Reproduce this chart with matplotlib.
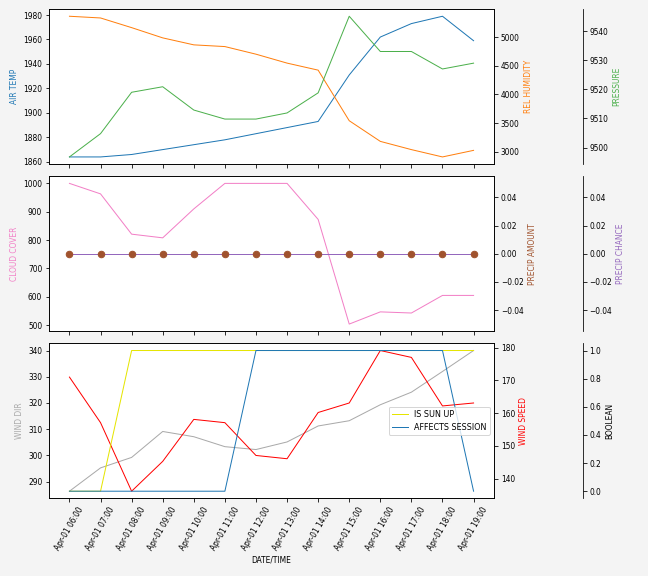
import numpy as np
import pandas as pd
import matplotlib
matplotlib.use("Agg")
import matplotlib.pyplot as plt
import matplotlib.dates as mdates

plt.rcParams['font.size'] = 7.5

times = pd.date_range("2024-04-01 06:00", periods=14, freq="h")

air_temp = [1864, 1864, 1866, 1870, 1874, 1878, 1883, 1888, 1893, 1931, 1962, 1973, 1979, 1959]
rel_humidity = [5366, 5336, 5167, 4988, 4866, 4836, 4703, 4547, 4424, 3540, 3179, 3035, 2907, 3022]
pressure = [9496.8, 9504.8, 9519.0, 9520.9, 9512.9, 9509.8, 9509.8, 9511.9, 9518.8,
            9545.1, 9533.0, 9533.0, 9527.0, 9529.0]

cloud_cover = [1000, 963, 821, 808, 910, 1000, 1000, 1000, 873, 504, 547, 543, 605, 605]
precip_amount = [0] * 14
precip_chance = [0] * 14

wind_dir = [286.3, 295.2, 299.2, 309.1, 307.1, 303.3, 302.2, 305.1, 311.2, 313.2, 319.3, 324.1, 332.0, 340]
wind_speed = [171.0, 157.1, 136.2, 145.3, 158.1, 157.1, 147.1, 146.1, 160.2, 163.1, 179.1, 177.0, 162.2, 163.1]
is_sun_up = [0, 0, 1, 1, 1, 1, 1, 1, 1, 1, 1, 1, 1, 1]
affects_session = [0, 0, 0, 0, 0, 0, 1, 1, 1, 1, 1, 1, 1, 0]


def third_axis(ax):
    par = ax.twinx()
    par.spines["right"].set_position(("axes", 1.2))
    par.set_frame_on(True)
    par.patch.set_visible(False)
    for sp in par.spines.values():
        sp.set_visible(False)
    par.spines["right"].set_visible(True)
    return par


fig, (ax1, ax2, ax3) = plt.subplots(3, 1, figsize=(9, 8), dpi=72, sharex=True)
fig.patch.set_facecolor("#f4f4f4")
fig.subplots_adjust(left=0.076, right=0.762, top=0.984, bottom=0.135, hspace=0.08)

# top panel
ax1.plot(times, air_temp, color="tab:blue", lw=1)
ax1.set_ylabel("AIR TEMP", color="tab:blue")
p1 = ax1.twinx()
p1.plot(times, rel_humidity, color="tab:orange", lw=1)
p1.set_ylabel("REL HUMIDITY", color="tab:orange")
p2 = third_axis(ax1)
p2.plot(times, pressure, color="#4cb04c", lw=1)
p2.set_ylabel("PRESSURE", color="#4cb04c")

# middle panel
ax2.plot(times, cloud_cover, color="#f27fc6", lw=1)
ax2.set_ylabel("CLOUD COVER", color="#f27fc6")
p3 = ax2.twinx()
p3.plot(times, precip_amount, color="sienna", ls="none", marker="o", ms=6.5)
p3.set_ylabel("PRECIP AMOUNT", color="sienna")
p4 = third_axis(ax2)
p4.plot(times, precip_chance, color="tab:purple", lw=1)
p4.set_ylabel("PRECIP CHANCE", color="tab:purple")
# markers of precip amount sit on top of the precip chance line
p3.set_zorder(2)
p4.set_zorder(1)

# bottom panel
ax3.plot(times, wind_dir, color="darkgray", lw=1)
ax3.set_ylabel("WIND DIR", color="darkgray")
p5 = ax3.twinx()
p5.plot(times, wind_speed, color="red", lw=1)
p5.set_ylabel("WIND SPEED", color="red")
p6 = third_axis(ax3)
p6.plot(times, is_sun_up, color="#e5e500", lw=1, label="IS SUN UP")
p6.plot(times, affects_session, color="tab:blue", lw=1, label="AFFECTS SESSION")
p6.set_ylabel("BOOLEAN")
p6.legend(loc="center right", bbox_to_anchor=(1.0, 0.5), bbox_transform=ax3.transAxes,
          fontsize=8)

ax3.set_xticks(times)
ax3.xaxis.set_major_formatter(mdates.DateFormatter("%b-%d %H:%M"))
plt.setp(ax3.get_xticklabels(), rotation=60)
ax3.set_xlabel("DATE/TIME")

plt.savefig("out.png", facecolor=fig.get_facecolor())
